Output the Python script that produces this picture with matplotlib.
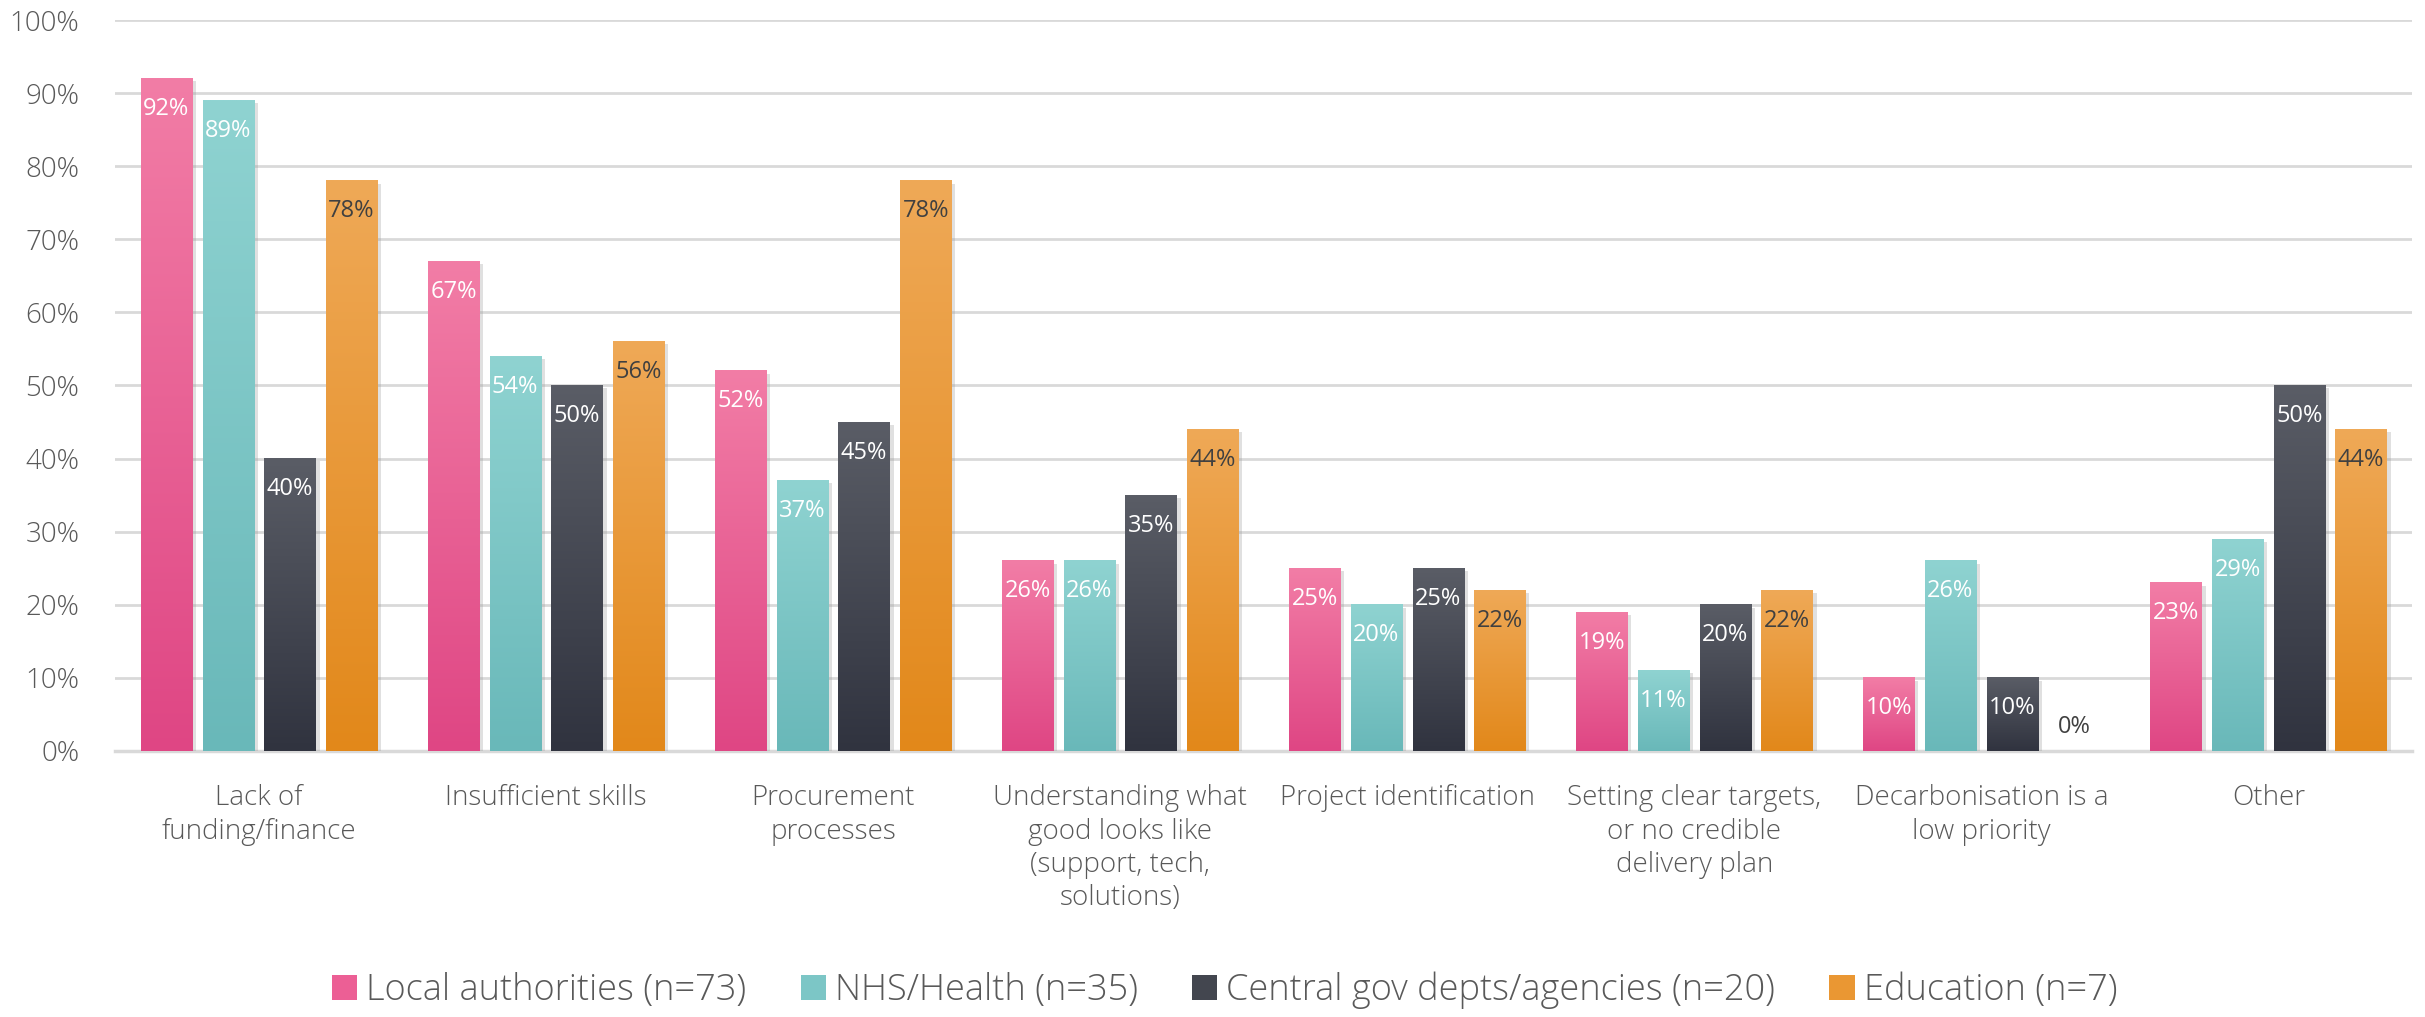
import numpy as np
import matplotlib
matplotlib.use("Agg")
import matplotlib.pyplot as plt
from matplotlib.colors import LinearSegmentedColormap
from matplotlib.patches import Patch
import matplotlib.patheffects as pe

categories = ["Lack of\nfunding/finance", "Insufficient skills", "Procurement\nprocesses",
              "Understanding what\ngood looks like\n(support, tech,\nsolutions)",
              "Project identification", "Setting clear targets,\nor no credible\ndelivery plan",
              "Decarbonisation is a\nlow priority", "Other"]
series_names = ["Local authorities (n=73)", "NHS/Health (n=35)",
                "Central gov depts/agencies (n=20)", "Education (n=7)"]
local_auth = [92, 67, 52, 26, 25, 19, 10, 23]
nhs_health = [89, 54, 37, 26, 20, 11, 26, 29]
central_gov = [40, 50, 45, 35, 25, 20, 10, 50]
education = [78, 56, 78, 44, 22, 22, 0, 44]
yticks = [0, 10, 20, 30, 40, 50, 60, 70, 80, 90, 100]

series = [local_auth, nhs_health, central_gov, education]
top_cols = ["#F27DA6", "#8FD3D1", "#5A5D66", "#EFA957"]
bot_cols = ["#DF4684", "#69B8B9", "#30333F", "#E2881A"]
mid_cols = ["#EC5F95", "#7CC6C6", "#43464F", "#EA9733"]
label_cols = ["white", "white", "white", "#404040"]

FONT = "Open Sans"
plt.rcParams["font.family"] = [FONT, "DejaVu Sans"]

fig = plt.figure(figsize=(24.25, 10.17), dpi=100)
ax = fig.add_axes([0.0476, 0.2616, 0.947, 0.7187])

n = len(categories)
x = np.arange(n)
pitch = 0.215
width = 0.178
offsets = (np.arange(4) - 1.5) * pitch

grad = np.linspace(0, 1, 256).reshape(-1, 1)
for i, vals in enumerate(series):
    bars = ax.bar(x + offsets[i], vals, width=width, color=bot_cols[i], zorder=3,
                  path_effects=[pe.SimplePatchShadow(offset=(3, -2), shadow_rgbFace="#9a9a9a", alpha=0.3),
                                pe.Normal()])
    cmap = LinearSegmentedColormap.from_list(f"g{i}", [bot_cols[i], top_cols[i]])
    for b, v in zip(bars, vals):
        xc = b.get_x() + b.get_width() / 2
        if v <= 0:
            ax.annotate(f"{v}%", (xc, v), xytext=(0, 17), textcoords="offset points",
                        ha="center", va="center", fontsize=17, fontweight="medium",
                        color="#404040", zorder=6)
            continue
        x0 = b.get_x()
        ax.imshow(grad, extent=[x0, x0 + b.get_width(), 0, b.get_height()], origin="lower",
                  aspect="auto", cmap=cmap, zorder=4, interpolation="bilinear")
        ax.annotate(f"{v}%", (xc, v), xytext=(0, -22), textcoords="offset points",
                    ha="center", va="center", fontsize=17, fontweight="medium",
                    color=label_cols[i], zorder=6)

ax.set_xlim(-0.5, n - 0.5)
ax.set_ylim(0, 100)
ax.set_yticks(yticks)
ax.set_yticklabels([f"{t}%" for t in yticks], fontsize=20, color="#595959", fontweight="light")
ax.set_xticks(x)
ax.set_xticklabels(categories, fontsize=20, color="#595959", fontweight="light", linespacing=1.25,
                   va="top", ha="center")
ax.tick_params(axis="both", length=0)
ax.tick_params(axis="x", pad=24)
ax.tick_params(axis="y", pad=26)
ax.grid(axis="y", color="#D9D9D9", linewidth=2, zorder=0)
ax.set_axisbelow(True)
for s in ["top", "right", "left"]:
    ax.spines[s].set_visible(False)
ax.spines["bottom"].set_color("#D9D9D9")
ax.spines["bottom"].set_linewidth(2.5)
ax.spines["bottom"].set_zorder(2)

handles = [Patch(facecolor=mid_cols[i], edgecolor="none") for i in range(4)]
leg = fig.legend(handles, series_names, loc="center", bbox_to_anchor=(0.505, 0.0265), ncol=4,
                 frameon=False, handlelength=0.7, handleheight=0.7,
                 handletextpad=0.25, columnspacing=1.5, prop={"weight": "light", "size": 26})
for t in leg.get_texts():
    t.set_color("#595959")

fig.savefig("out.png", dpi=100)
